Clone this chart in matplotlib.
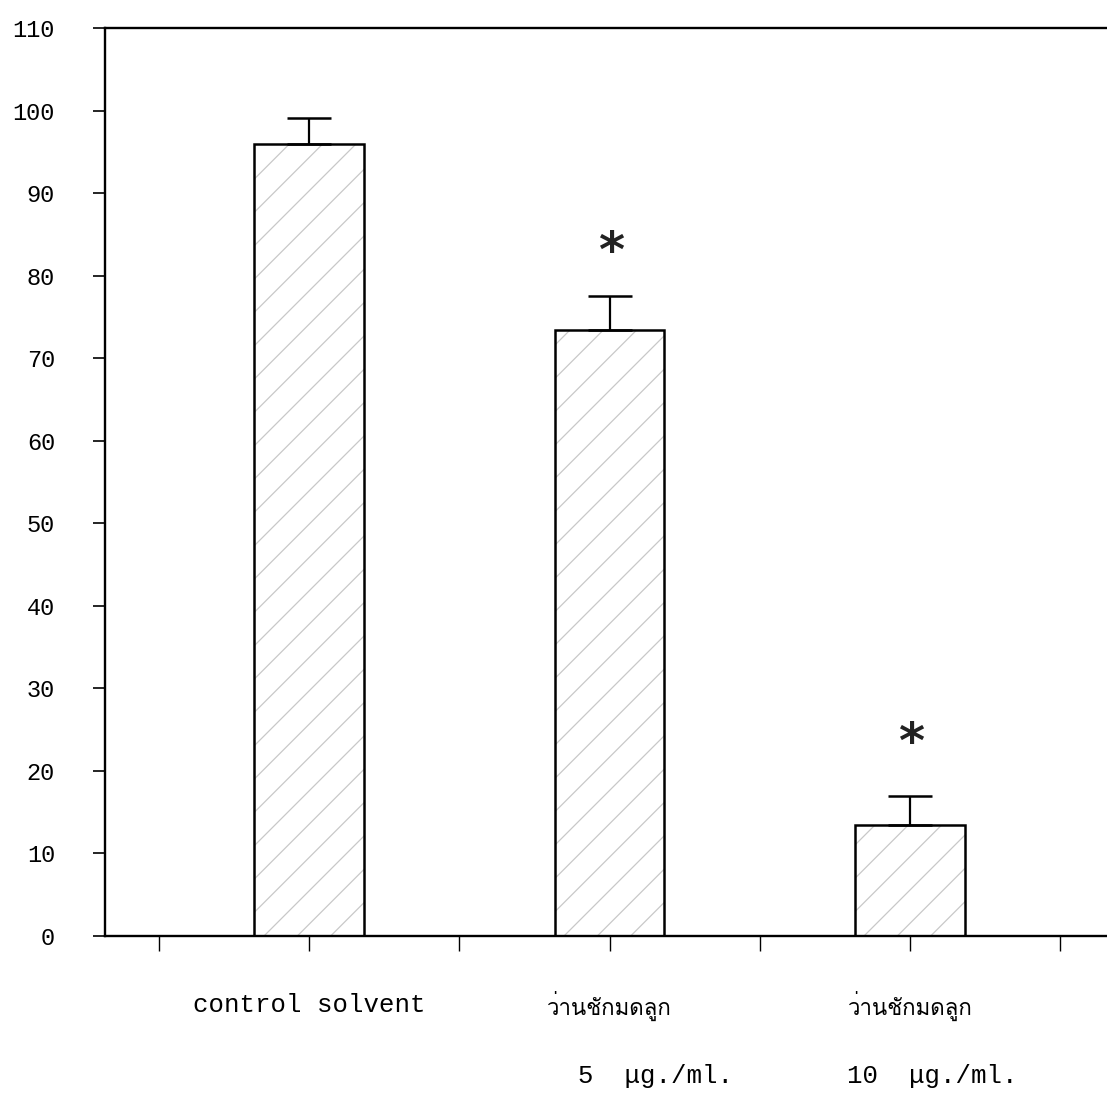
import matplotlib
matplotlib.use("Agg")
import matplotlib.pyplot as plt
from matplotlib import font_manager, ft2font

# ---- data ----
categories = ["control solvent", "ว่านชักมดลูก", "ว่านชักมดลูก"]
doses = ["", "5  μg./ml.", "10  μg./ml."]
means = [96.0, 73.4, 13.5]
errors = [3.1, 4.1, 3.5]
significant = [False, True, True]
star_levels = [0, 84.1, 24.6]
yticks = [0, 10, 20, 30, 40, 50, 60, 70, 80, 90, 100, 110]

# find a font that has Thai glyphs
thai_font = None
for fe in font_manager.fontManager.ttflist:
    try:
        f = ft2font.FT2Font(fe.fname)
        if f.get_char_index(0x0E27) and f.get_char_index(0x0E01):
            thai_font = fe.name
            break
    except Exception:
        pass

mono = "Liberation Mono"
thai_family = [thai_font, mono] if thai_font else [mono]

plt.rcParams['hatch.linewidth'] = 0.9

fig = plt.figure(figsize=(11.07, 10.94), dpi=100)
ax = fig.add_axes([0.0949, 0.1444, 1.0 - 0.0949, 0.9744 - 0.1444])

positions = [1, 2, 3]
# light dotted-looking hatch fill
ax.bar(positions, means, width=0.365, color='white', edgecolor='#c8c8c8',
       linewidth=0, hatch='/', zorder=2)
# black outline
ax.bar(positions, means, width=0.365, fill=False, edgecolor='black',
       linewidth=1.8, zorder=3)
ax.errorbar(positions, means, yerr=[[0, 0, 0], errors], fmt='none',
            ecolor='black', elinewidth=1.6, capsize=16, capthick=1.8, zorder=4)

for x, s, lv in zip(positions, significant, star_levels):
    if s:
        ax.annotate("*", xy=(x, lv), xytext=(1, -8), textcoords='offset points',
                    ha='center', va='center', fontsize=36, fontweight='bold',
                    family='DejaVu Sans', color='#222222')

ax.set_xlim(0.32, 3.656)
ax.set_ylim(0, 110)
ax.set_yticks(yticks)
ax.set_yticklabels([str(v) for v in yticks], family=mono, fontsize=17)
ax.set_xticks([0.5, 1, 1.5, 2, 2.5, 3, 3.5])
ax.set_xticklabels([])
ax.tick_params(axis='y', direction='out', length=9, width=1.2, pad=27)
ax.tick_params(axis='x', direction='out', length=11, width=1.0)
for side in ['left', 'bottom', 'top']:
    ax.spines[side].set_linewidth(1.7)
ax.spines['right'].set_visible(False)

for x, c, d in zip(positions, categories, doses):
    fam = mono if c.isascii() else thai_family
    fs = 18.5 if c.isascii() else 16
    ax.annotate(c, xy=(x, 0), xycoords=('data', 'axes fraction'),
                xytext=(0, -50), textcoords='offset points',
                ha='center', va='center', fontsize=fs, family=fam)
    if d:
        ax.annotate(d, xy=(x, 0), xycoords=('data', 'axes fraction'),
                    xytext=(33 if x == 2 else 16, -101), textcoords='offset points',
                    ha='center', va='center', fontsize=18.5, family=mono)

fig.savefig("out.png", dpi=100)
